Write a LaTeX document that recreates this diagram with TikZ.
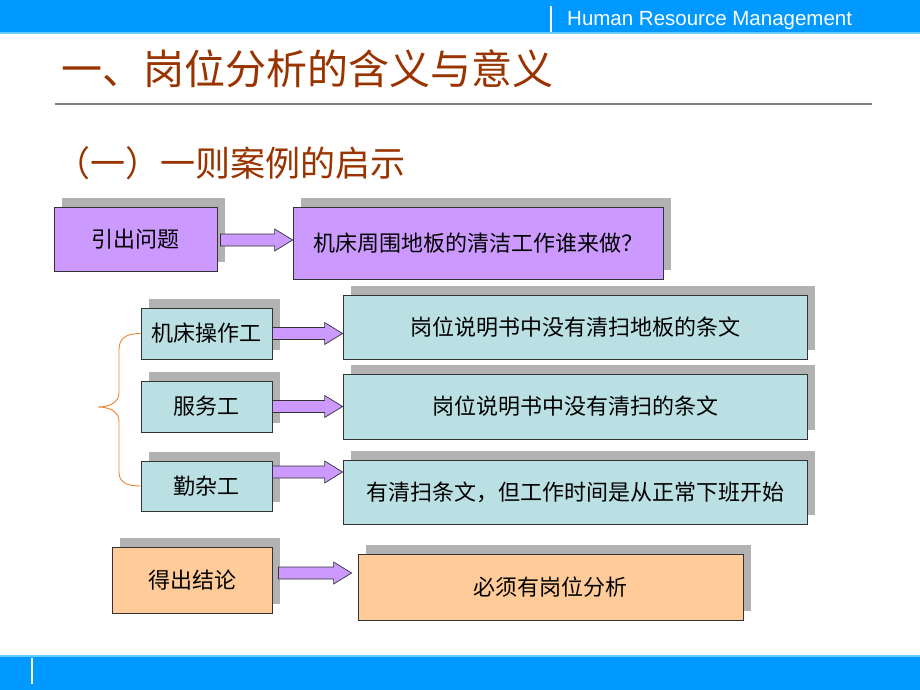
\documentclass[tikz,border=0pt]{standalone}
\usepackage{fontspec}
\newfontfamily\cjk{Noto Sans CJK SC}
\newfontfamily\hdr{Liberation Sans}
\usetikzlibrary{shadows,calc}
\definecolor{barblue}{HTML}{0099FF}
\definecolor{barlight}{HTML}{66CCFF}
\definecolor{titlebrown}{HTML}{993300}
\definecolor{purplefill}{HTML}{CC99FF}
\definecolor{tealfill}{HTML}{BBE0E3}
\definecolor{orangefill}{HTML}{FFCC99}
\definecolor{shadowgray}{HTML}{B2B2B2}
\definecolor{boxline}{HTML}{333333}
\definecolor{braceorange}{RGB}{240,130,50}
\definecolor{rulegray}{HTML}{808080}
\newcommand\fatarrow[2]{%
  \draw[fatarr] ($(#1)+(0,-6)$) -- ($(#2)+(-18,-6)$) -- ($(#2)+(-18,-11)$) -- (#2)
    -- ($(#2)+(-18,11)$) -- ($(#2)+(-18,6)$) -- ($(#1)+(0,6)$) -- cycle;}
\begin{document}
\begin{tikzpicture}[x=1pt,y=-1pt,
  box/.style={draw=boxline, line width=0.8pt, inner sep=0pt, text=black,
    font=\cjk\fontsize{22}{26}\selectfont,
    general shadow={fill=shadowgray, shadow xshift=8pt, shadow yshift=9pt}},
  pbox/.style={box, fill=purplefill},
  tbox/.style={box, fill=tealfill},
  obox/.style={box, fill=orangefill},
  fatarr/.style={draw=boxline, line width=0.7pt, fill=purplefill, line join=miter},
  bracestyle/.style={draw=braceorange, line width=0.9pt}]
\useasboundingbox (0,0) rectangle (920,690);
% header bar
\fill[barblue] (0,0) rectangle (920,32);
\fill[barlight] (0,32) rectangle (920,34);
\draw[white, line width=1.6pt] (551,6) -- (551,32);
\node[anchor=west, text=white, font=\hdr\fontsize{20.5}{24}\selectfont, inner sep=0pt] (hdr) at (567,21) {Human Resource Management};
% footer bar
\fill[barlight] (0,655) rectangle (920,657);
\fill[barblue] (0,657) rectangle (920,690);
\draw[white, line width=1.6pt] (32,658) -- (32,684);
% titles
\node[anchor=west, inner sep=0pt, text=titlebrown, font=\cjk\fontsize{41}{45}\selectfont] (title) at (61,69) {一、岗位分析的含义与意义};
\draw[rulegray, line width=2pt] (55,104) -- (872,104);
\node[anchor=west, inner sep=0pt, text=titlebrown, font=\cjk\fontsize{35}{40}\selectfont] (sub) at (55,163) {（一）一则案例的启示};
% boxes
\node[pbox, minimum width=163pt, minimum height=64pt] (q1) at (135.5,239) {引出问题};
\node[pbox, minimum width=370pt, minimum height=72pt] (q2) at (478,243) {机床周围地板的清洁工作谁来做？};
\node[tbox, minimum width=131pt, minimum height=51pt] (w1) at (206.5,333.5) {机床操作工};
\node[tbox, minimum width=131pt, minimum height=51pt] (w2) at (206.5,406.5) {服务工};
\node[tbox, minimum width=131pt, minimum height=50pt] (w3) at (206.5,486) {勤杂工};
\node[tbox, minimum width=464pt, minimum height=64pt] (r1) at (575,327) {岗位说明书中没有清扫地板的条文};
\node[tbox, minimum width=464pt, minimum height=65pt] (r2) at (575,406.5) {岗位说明书中没有清扫的条文};
\node[tbox, minimum width=464pt, minimum height=64pt] (r3) at (575,492) {有清扫条文，但工作时间是从正常下班开始};
\node[obox, minimum width=160pt, minimum height=66pt] (c1) at (192,580) {得出结论};
\node[obox, minimum width=385pt, minimum height=66pt] (c2) at (550.5,587) {必须有岗位分析};
% arrows
\coordinate (a1s) at ($(q1.east)+(3,1)$);
\coordinate (a1e) at (q2.west |- a1s);
\coordinate (a2s) at (w1.east);
\coordinate (a2e) at (r1.west |- w1.east);
\coordinate (a3s) at (w2.east);
\coordinate (a3e) at (r2.west |- w2.east);
\coordinate (a4s) at ($(w3.east)+(0,-14)$);
\coordinate (a4e) at (r3.west |- a4s);
\coordinate (a5s) at ($(c1.east)+(6,-7)$);
\coordinate (a5e) at ($(c2.west |- a5s)+(-6,0)$);
\fatarrow{a1s}{a1e}
\fatarrow{a2s}{a2e}
\fatarrow{a3s}{a3e}
\fatarrow{a4s}{a4e}
\fatarrow{a5s}{a5e}
% brace
\draw[bracestyle] (w1.west) .. controls (126,333.5) and (119,338) .. (119,350)
  -- (119,393) .. controls (119,402) and (110,407) .. (98,407)
  .. controls (110,407) and (119,412) .. (119,421)
  -- (119,472) .. controls (119,482) and (126,486) .. (w3.west);
\end{tikzpicture}
\end{document}
